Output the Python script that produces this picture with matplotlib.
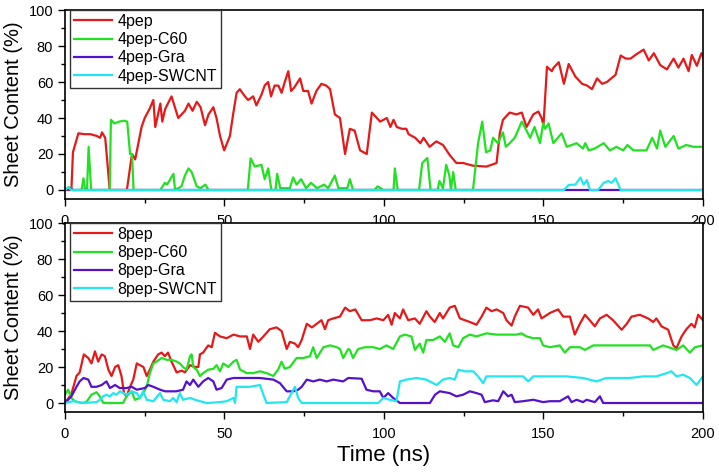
import numpy as np
import matplotlib.pyplot as plt
from matplotlib.ticker import MultipleLocator

plt.rcParams['font.family'] = ['Liberation Sans', 'DejaVu Sans']

# 4pep 体系 (time ns, sheet %)
pep4 = [(0, 0), (2.0, 0), (2.5, 21), (4.2, 31.5), (6, 31), (8, 31), (10, 30), (11, 29), (11.6, 32), (12.6, 29),
        (13.3, 15), (14.0, 0), (19.4, 0), (21.0, 20), (22.0, 17), (24.0, 35), (25.0, 40), (26.5, 45), (27.7, 50),
        (28.3, 35), (29.9, 48), (30.5, 38), (31.4, 45), (33.4, 52), (35.5, 40), (37.6, 44), (38.7, 48), (40.0, 44),
        (41.3, 49), (42.5, 46), (43.9, 36), (45.0, 42), (46.5, 46), (47.5, 40), (48.6, 30), (49.9, 22), (51.7, 30),
        (52.7, 42), (53.8, 54), (54.8, 56), (56.4, 52), (57.4, 50), (59.0, 52), (60.0, 47), (61.6, 53), (62.6, 58),
        (63.7, 60), (64.6, 52), (65.7, 58), (66.9, 58), (67.9, 54), (68.9, 60), (70.0, 66), (70.9, 55), (71.9, 57),
        (73.7, 62), (74.7, 55), (76.2, 55), (77.3, 48), (78.8, 55), (80.4, 59), (81.9, 58), (83.1, 56), (84.6, 42),
        (86.2, 40), (87.8, 20), (89.3, 34), (90.8, 33), (92.5, 22), (94.6, 20), (96.2, 43), (98.8, 38), (100.9, 40),
        (102.0, 35), (103.0, 39), (104.0, 35), (105.6, 34), (107.0, 34), (107.7, 31), (109.8, 29), (111.4, 26),
        (112.4, 29), (114.3, 24), (116.4, 27), (118.5, 25), (120.6, 19.4), (122.7, 15), (124.8, 15), (127.9, 13.5),
        (132.1, 13), (135.3, 15), (136.3, 31.5), (137.3, 39), (139.4, 43), (141.5, 42), (143.2, 43), (144.7, 35),
        (146.8, 42), (148.4, 43.6), (149.4, 40), (150.0, 36), (151.1, 68.5), (152.6, 66), (153.2, 68), (154.8, 71),
        (156.4, 59), (157.9, 70), (160.0, 63), (162.1, 59), (163.7, 58), (165.2, 56), (166.8, 62), (168.4, 59),
        (169.9, 60), (172.6, 64), (174.2, 74.7), (175.8, 73), (177.3, 73), (178.8, 75), (181.4, 78), (183.0, 72),
        (184.6, 76), (186.6, 69.4), (188.7, 67), (190.8, 73), (192.3, 68), (193.9, 73), (195.5, 66), (196.5, 75),
        (198.1, 69), (199.5, 76), (200, 74)]

pep4_c60 = [(0, 0), (1.2, 1.5), (2, 1), (2.5, 0), (5.2, 0), (5.8, 6.5), (6.3, 0), (6.9, 0), (7.4, 24), (8.2, 0),
            (14, 0), (14.4, 39), (15.5, 37), (17, 38), (18.5, 38.5), (19.5, 38), (20.4, 20), (21, 20), (21.5, 0),
            (29.9, 0), (31.3, 4), (32, 3), (33, 6), (34, 9), (34.5, 0), (36.5, 2), (37.6, 8), (38.7, 12), (39.7, 10),
            (41.3, 2), (42.5, 1), (44, 3), (45, 0), (57.3, 0), (58.2, 17.6), (59.5, 13), (61.6, 14), (62.6, 6),
            (63.7, 12), (64.7, 0), (66.0, 0), (66.5, 9), (67.5, 1), (70.5, 1), (71.5, 7), (72.6, 3), (74, 6),
            (75.6, 1), (77.1, 4), (79, 1), (81.2, 3), (82.5, 1), (84.6, 8), (85.7, 1), (88.5, 1), (89.3, 6),
            (90.3, 0), (97, 0), (98, 2), (99.8, 0), (103, 0), (103.4, 12), (104.3, 0), (111, 0), (112, 15),
            (113.6, 17.8), (114.6, 0), (116.8, 0), (117.4, 5), (118.5, 1), (119.5, 14), (120.5, 8), (121, 0),
            (121.7, 10), (122.5, 0), (127.9, 0), (129.5, 26), (130.8, 38), (132, 21), (133.3, 22), (134.2, 29),
            (135.7, 26), (137.3, 32), (138.2, 24), (139.4, 26), (141, 29), (143.2, 38), (144.7, 33), (145.8, 29),
            (147.2, 35), (148.9, 26), (149.9, 37), (150.5, 34), (151.6, 37), (153.1, 26), (155.7, 31.5), (157.3, 24),
            (160.4, 26), (162.4, 23), (163.1, 26), (164.2, 22), (166, 23), (168.9, 26), (170.8, 22), (172.9, 24),
            (175, 22), (176.3, 25), (178.2, 22), (182.3, 22), (184.1, 29), (185.6, 23), (186.6, 33), (188.2, 24),
            (190.8, 30), (192.3, 23), (194.8, 25), (196.9, 24), (200, 24)]

pep4_gra = [(0, 0), (1.5, 1), (2.5, 0), (200, 0)]

pep4_swcnt = [(0, 0), (1, 1.5), (2, 0), (156.4, 0), (157.9, 2.8), (160, 3), (161.6, 6.9), (162.6, 3), (163.6, 5.5),
              (164.6, 0), (167.1, 0), (168.9, 4), (170.3, 5), (171.3, 4), (172.6, 6.5), (174.2, 0), (200, 0)]

# 8pep 体系
pep8 = [(0, 0), (2, 5), (3.6, 15), (4.6, 17), (5.9, 27), (7.3, 25), (8.3, 22), (9.4, 28.7), (10.4, 23), (11.5, 27),
        (12.5, 26), (13.6, 18.5), (14.6, 15), (15.7, 20), (16.7, 21), (17.7, 15), (18.5, 5.5), (19.3, 3.7),
        (20.4, 9), (21.4, 13), (22.5, 22), (23.5, 21), (24.6, 20), (25.6, 15), (26.6, 18.5), (27.7, 23), (29.2, 27),
        (30.3, 28), (31.3, 26), (32.3, 28), (33.4, 23), (35, 17), (36.6, 18), (37.6, 17), (39.2, 21), (40.8, 20),
        (41.8, 20), (42.3, 27), (43.3, 28), (44.9, 32), (46, 31), (47, 39), (48.6, 37), (50.7, 36), (52.8, 38),
        (54.9, 37), (57, 37), (58, 30), (59, 38), (60.6, 34), (62.2, 37), (64.2, 41), (66.3, 42), (67.9, 40),
        (69.5, 30), (70.5, 34), (72.1, 33), (73.1, 31), (74.2, 35), (75.8, 44), (77.4, 42), (78.9, 44), (80.4, 46),
        (81.5, 41), (82.5, 46), (84.1, 47), (86.2, 48), (87.8, 53), (89.3, 51), (91, 52), (93, 46), (95.6, 46),
        (97.7, 47), (99.8, 46), (101.3, 49), (102.4, 43.5), (103.4, 50), (105, 47), (106, 52), (107.6, 46),
        (109.7, 47), (111.2, 44), (113.3, 51), (114.4, 48), (115.9, 45), (117.5, 50), (118.5, 47), (120.6, 53),
        (122.2, 54), (123.8, 47), (126.9, 45), (129, 43.5), (130.6, 48), (132.1, 53), (133.7, 51), (135.3, 52),
        (137.4, 50), (138.4, 46), (140, 43), (141, 48), (142.6, 54), (145.2, 53), (146.8, 49), (148.3, 52),
        (149.4, 47), (152, 50), (154.6, 52), (156.2, 48), (158.3, 48), (159.8, 38), (161.4, 44), (163, 49),
        (164.5, 46), (166.1, 42.6), (167.7, 47), (169.8, 49), (171.8, 46), (174.5, 40.7), (176.1, 44), (177.6, 48),
        (180.2, 49), (182.8, 47), (184.4, 45), (185.4, 47), (187, 42.6), (189.1, 40.7), (190.7, 32), (191.7, 30.5),
        (193.3, 37), (194.8, 41), (196.4, 44), (197.4, 42), (198.5, 49), (200, 46)]

pep8_c60 = [(0, 4.6), (1, 7.4), (2, 2.8), (3.1, 1), (5.2, 0), (6.7, 0.5), (8.3, 4.6), (9.9, 6), (10.9, 3.7), (12, 0),
            (18.2, 0), (19.3, 3.7), (20.9, 6.5), (21.9, 1.8), (23.5, 2.8), (24.5, 5.5), (25.6, 9), (26.6, 16.6),
            (27.7, 22), (28.7, 23), (30.3, 25), (31.9, 24), (33.4, 24), (35, 23), (36, 22), (37, 20), (38.1, 18.5),
            (39.2, 26), (39.7, 27), (40.2, 20), (41.3, 18.5), (42.3, 15), (43.3, 16.6), (44.9, 18.5), (46.5, 19),
            (47.5, 21), (48.6, 17.6), (49.6, 22), (51.2, 20), (52.8, 23), (53.8, 24), (54.9, 18.5), (57, 16.6),
            (59, 16.6), (61.1, 17.6), (63.2, 16.6), (65.3, 15), (66.8, 18.5), (67.9, 23), (68.9, 19), (70.5, 20),
            (72.6, 25), (74.7, 25), (76.8, 26), (77.8, 31), (78.9, 25), (81, 31), (83.1, 32), (85.2, 31), (86.2, 30),
            (87.2, 25), (88.8, 30), (89.3, 29.5), (90.3, 25), (91.9, 30), (94, 31), (96.6, 31), (98.7, 30),
            (100.8, 32), (102.9, 30), (105, 37), (106.5, 38), (108.6, 37), (109.7, 29.5), (111.2, 33), (112.3, 28),
            (113.3, 35), (115.4, 35), (117.5, 37), (119.1, 34), (120.6, 38.7), (121.7, 32), (123.3, 31), (124.8, 36),
            (126.9, 38), (129, 37), (132.1, 38.7), (135.3, 38), (138.4, 38), (141.5, 38), (143.1, 38.7), (144.7, 37),
            (146.8, 36), (148.9, 36), (149.9, 32), (152, 31), (155.1, 32), (156.7, 28), (158.3, 31), (161.4, 31),
            (163, 29.5), (165.6, 32), (168.7, 32), (172.9, 32), (178.1, 32), (183.4, 32), (184.4, 29.5), (187.5, 32),
            (191.7, 29.5), (193.8, 32), (195.9, 28), (197.5, 31), (200, 32)]

pep8_gra = [(0, 0), (2, 3.7), (3.6, 9), (4.6, 12), (5.8, 13.9), (7.3, 13), (8.3, 9), (9.9, 9), (11.5, 10), (13, 12),
            (14.1, 8.3), (15.7, 10), (17.2, 8.3), (19.3, 8.3), (20.9, 9), (22.5, 7.4), (25, 8.3), (26.1, 10),
            (27.7, 9), (29.8, 7.4), (31.4, 6.5), (34.9, 6.5), (37, 7.4), (38.1, 12), (39.2, 10), (40.2, 13),
            (41.8, 9), (43.3, 12), (44.9, 13.9), (46.5, 12), (47.5, 7.4), (49.1, 8.3), (50.7, 13), (52.8, 13.9),
            (57, 13.9), (61.1, 13.9), (65.3, 13), (67.4, 11), (69.5, 6.5), (71.6, 6.5), (73.1, 7.4), (74.2, 9),
            (75.8, 13), (77.8, 12), (79.9, 13), (82, 12), (84.1, 13), (87.2, 12), (88.8, 13.9), (93, 13.5),
            (94.5, 7.4), (96.6, 6.5), (98.7, 6.5), (99.8, 2.8), (101.3, 5.5), (102.9, 2.8), (105, 0), (114.4, 0),
            (116, 4.6), (117.5, 6.5), (120.6, 5.5), (122.7, 3.7), (124.8, 4.6), (126.9, 6.5), (129, 5.5), (130.6, 4.6),
            (131.6, 0.5), (134.2, 1.5), (135.8, 1), (137.4, 6.5), (138.9, 3.7), (140, 4.6), (141, 0.5), (143.6, 1),
            (146.8, 1.8), (149.9, 0.5), (152, 1), (155.1, 1), (157.7, 3.7), (158.8, 0.5), (160.4, 1.8), (162.4, 0.5),
            (163.5, 1.8), (166.1, 0.5), (167.7, 3.7), (168.7, 0), (200, 0)]

pep8_swcnt = [(0, 0), (2.6, 1), (5.8, 0), (9.9, 0.5), (10.9, 1.8), (11.9, 3.7), (13, 4.6), (14.1, 3.7), (15.1, 5.5),
              (16.2, 4.6), (17.2, 6.5), (19.3, 4.6), (20.9, 6.5), (22.5, 5.5), (23.5, 2.8), (24.5, 6.5), (25.6, 1.8),
              (27.7, 1), (29.8, 5.5), (30.8, 1.8), (32.9, 1), (33.9, 2.8), (35, 0.5), (36, 5.5), (37, 1.8),
              (39.2, 2.8), (40.8, 1.8), (42.3, 1), (44.4, 0), (48.6, 0.5), (50.7, 1), (52.8, 2.8), (53.3, 0),
              (53.8, 9), (54.9, 9), (58, 9), (61.1, 10), (62.2, 4.6), (63.2, 0), (69.5, 0.5), (71.6, 7.4), (72.1, 9),
              (73.1, 2.8), (74.2, 0), (98.2, 0), (99.8, 2.8), (101.8, 1.8), (103.9, 1), (105, 12), (107, 13),
              (110.2, 13.9), (113.3, 13), (116.5, 10), (118.5, 13), (120.6, 13.9), (122.2, 13), (123.3, 18.5),
              (125.4, 17.6), (128, 17.6), (129.5, 14.8), (131.1, 11), (132.1, 14.8), (136.3, 14.8), (140.5, 14.8),
              (143.6, 14.8), (145.2, 12), (146.8, 14.8), (152, 14.8), (157.2, 14.8), (162.4, 13.9), (166.6, 12),
              (169.7, 13.9), (173.9, 13.9), (177.1, 13.9), (181.3, 14.8), (185.4, 14.8), (188.6, 16.6), (190.1, 17.6),
              (191.7, 14.8), (193.8, 15.7), (195.9, 13.9), (198, 10), (200, 14.8)]

labels_top = ['4pep', '4pep-C60', '4pep-Gra', '4pep-SWCNT']
labels_bot = ['8pep', '8pep-C60', '8pep-Gra', '8pep-SWCNT']
colors = ['#e41a1a', '#22e022', '#5512cc', '#22e6f0']

fig = plt.figure(figsize=(7.19, 4.72), dpi=100)
ax1 = fig.add_axes([0.0904, 0.5784, 0.8873, 0.4004])
ax2 = fig.add_axes([0.0904, 0.1271, 0.8873, 0.4004])


def draw(ax, series, labels):
    for data, lab, c in zip(series, labels, colors):
        arr = np.array(data)
        ax.plot(arr[:, 0], arr[:, 1], color=c, lw=1.6, label=lab)
    ax.set_xlim(0, 200)
    ax.set_ylim(-5, 100)
    ax.xaxis.set_major_locator(MultipleLocator(50))
    ax.xaxis.set_minor_locator(MultipleLocator(25))
    ax.yaxis.set_major_locator(MultipleLocator(20))
    ax.yaxis.set_minor_locator(MultipleLocator(10))
    ax.tick_params(which='major', direction='out', length=5, width=1, labelsize=10.5)
    ax.tick_params(axis='x', which='major', pad=6)
    ax.tick_params(which='minor', direction='out', length=3, width=1)
    for sp in ax.spines.values():
        sp.set_linewidth(1.2)
    ax.set_ylabel('Sheet Content (%)', fontsize=14.5, labelpad=4)
    leg = ax.legend(loc='upper left', bbox_to_anchor=(0.008, 1.0), borderaxespad=0,
                    fontsize=11.5, handlelength=2.4, labelspacing=0.2, handletextpad=0.3,
                    borderpad=0.25, fancybox=False, framealpha=1)
    leg.get_frame().set_edgecolor('#333333')
    leg.get_frame().set_linewidth(1.0)


draw(ax1, [pep4, pep4_c60, pep4_gra, pep4_swcnt], labels_top)
draw(ax2, [pep8, pep8_c60, pep8_gra, pep8_swcnt], labels_bot)
ax2.set_xlabel('Time (ns)', fontsize=16, labelpad=3)

plt.savefig('out.png', dpi=100)
plt.close()
